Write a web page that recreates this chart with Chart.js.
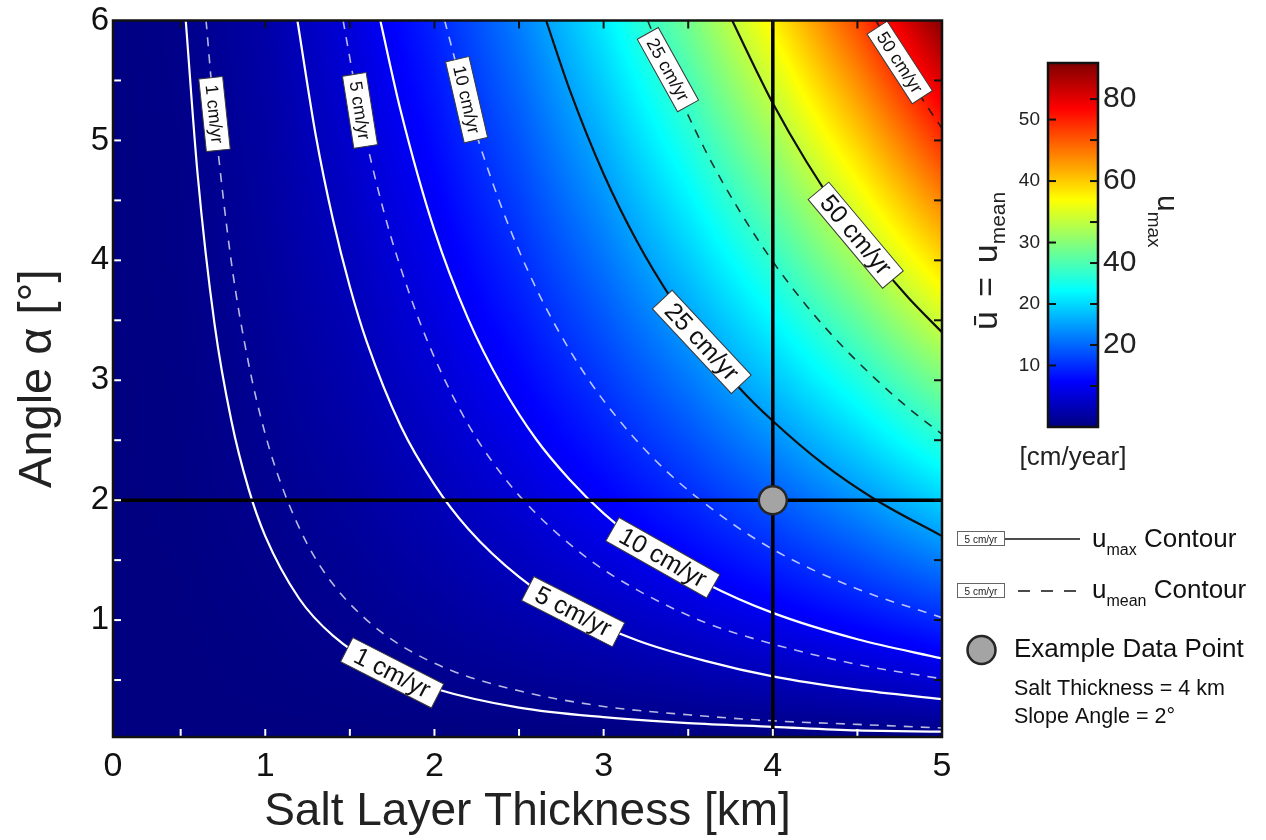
<!DOCTYPE html>
<html>
<head>
<meta charset="utf-8">
<title>Salt flow velocity</title>
<script src="https://cdn.jsdelivr.net/npm/chart.js@4.4.1/dist/chart.umd.min.js"></script>
<style>
  html, body { margin: 0; padding: 0; background: #ffffff; }
  #stage { position: relative; width: 1266px; height: 840px; overflow: hidden; }
  #main { position: absolute; left: 0; top: 0; }
  #cbar { position: absolute; left: 960px; top: 40px; }
</style>
</head>
<body>
<div id="stage">
  <canvas id="main" width="1266" height="840"></canvas>
  <canvas id="cbar" width="230" height="440"></canvas>
</div>
<script>
// ===================== DATA =====================
const thicknessRange = [0.1, 5];      // x axis extent [km]
const angleRange = [0.025, 6];        // y axis extent [deg]
const xTickValues = [0.1, 0.5, 1, 1.5, 2, 2.5, 3, 3.5, 4, 4.5, 5];
const xTickLabels = ['0', '', '1', '', '2', '', '3', '', '4', '', '5'];
const yTickValues = [0.5, 1, 1.5, 2, 2.5, 3, 3.5, 4, 4.5, 5, 5.5, 6];
const yTickLabels = ['', '1', '', '2', '', '3', '', '4', '', '5', '', '6'];

// colour field: u_max [cm/yr] read on a thickness x angle grid
const gridThickness = [0, 0.5, 1, 1.5, 2, 2.5, 3, 3.5, 4, 4.5, 5];
const gridAngle = [0, 1, 2, 3, 4, 5, 6];
const gridUmax = [
  [0, 0,   0,   0,   0,    0,    0,    0,    0,    0,    0],
  [0, 0.1, 0.6, 1.3, 2.4,  3.7,  5.3,  7.2,  9.4,  11.9, 14.7],
  [0, 0.3, 1.2, 2.6, 4.7,  7.4,  10.6, 14.4, 18.8, 23.8, 29.4],
  [0, 0.4, 1.8, 4.0, 7.1,  11.0, 15.9, 21.6, 28.2, 35.7, 44.1],
  [0, 0.6, 2.4, 5.3, 9.4,  14.7, 21.2, 28.8, 37.6, 47.6, 58.8],
  [0, 0.7, 2.9, 6.6, 11.8, 18.4, 26.5, 36.0, 47.0, 59.5, 73.5],
  [0, 0.9, 3.5, 7.9, 14.1, 22.1, 31.8, 43.2, 56.4, 71.4, 88.2]
];

// colour bar
const colorbarUmaxMax = 88.8;
const colorbarMeanMax = 59.2;
const cbMeanTicks = [10, 20, 30, 40, 50];
const cbMeanLabels = ['10', '20', '30', '40', '50'];
const cbUmaxTicks = [10, 20, 30, 40, 50, 60, 70, 80];
const cbUmaxLabels = ['', '20', '', '40', '', '60', '', '80'];

// u_max contours (solid): thickness [km] / angle [deg]
const umax1Thickness  = [0.53, 0.6, 0.7, 0.8, 0.9, 1.0, 1.2, 1.4, 1.7, 2.0, 2.5, 3.0, 3.5, 4.0, 4.5, 5.0];
const umax1Angle      = [6.0, 4.72, 3.47, 2.66, 2.10, 1.70, 1.18, 0.87, 0.59, 0.43, 0.27, 0.19, 0.14, 0.11, 0.08, 0.07];
const umax5Thickness  = [1.19, 1.3, 1.4, 1.5, 1.6, 1.8, 2.0, 2.2, 2.5, 2.8, 3.2, 3.6, 4.0, 4.5, 5.0];
const umax5Angle      = [6.0, 5.03, 4.34, 3.78, 3.32, 2.62, 2.13, 1.76, 1.36, 1.08, 0.83, 0.66, 0.53, 0.42, 0.34];
const umax10Thickness = [1.68, 1.8, 2.0, 2.2, 2.4, 2.6, 2.8, 3.0, 3.3, 3.6, 4.0, 4.5, 5.0];
const umax10Angle     = [6.0, 5.25, 4.25, 3.51, 2.95, 2.51, 2.17, 1.89, 1.56, 1.31, 1.06, 0.84, 0.68];
const umax25Thickness = [2.66, 2.8, 3.0, 3.2, 3.4, 3.6, 3.8, 4.0, 4.3, 4.6, 5.0];
const umax25Angle     = [6.0, 5.42, 4.72, 4.15, 3.68, 3.28, 2.94, 2.66, 2.30, 2.01, 1.70];
const umax50Thickness = [3.76, 3.9, 4.0, 4.2, 4.4, 4.6, 4.8, 5.0];
const umax50Angle     = [6.0, 5.59, 5.31, 4.82, 4.39, 4.02, 3.69, 3.40];

// u_mean contours (dashed)
const mean1Thickness  = [0.65, 0.7, 0.8, 0.9, 1.0, 1.1, 1.25, 1.4, 1.6, 1.8, 2.1, 2.5, 3.0, 3.5, 4.0, 4.5, 5.0];
const mean1Angle      = [6.0, 5.20, 3.98, 3.15, 2.55, 2.11, 1.63, 1.30, 1.00, 0.79, 0.58, 0.41, 0.28, 0.21, 0.16, 0.13, 0.10];
const mean5Thickness  = [1.46, 1.55, 1.7, 1.85, 2.0, 2.2, 2.4, 2.6, 2.9, 3.2, 3.6, 4.0, 4.5, 5.0];
const mean5Angle      = [6.0, 5.31, 4.41, 3.73, 3.19, 2.63, 2.21, 1.89, 1.52, 1.25, 0.98, 0.80, 0.63, 0.51];
const mean10Thickness = [2.06, 2.2, 2.4, 2.6, 2.8, 3.0, 3.3, 3.6, 4.0, 4.5, 5.0];
const mean10Angle     = [6.0, 5.27, 4.43, 3.77, 3.25, 2.83, 2.34, 1.97, 1.59, 1.26, 1.02];
const mean25Thickness = [3.26, 3.4, 3.6, 3.8, 4.0, 4.2, 4.4, 4.6, 4.8, 5.0];
const mean25Angle     = [6.0, 5.52, 4.92, 4.42, 3.99, 3.62, 3.30, 3.02, 2.77, 2.55];
const mean50Thickness = [4.61, 4.7, 4.8, 4.9, 5.0];
const mean50Angle     = [6.0, 5.77, 5.53, 5.31, 5.10];

// contour label anchors (thickness, angle) and text rotation [deg]
const contourLabelAnchors = [
  { kind: 'umax', level: 1,  h: 1.75, a: 0.56, rot: 27 },
  { kind: 'umax', level: 5,  h: 2.82, a: 1.07, rot: 27 },
  { kind: 'umax', level: 10, h: 3.35, a: 1.52, rot: 29.5 },
  { kind: 'umax', level: 25, h: 3.58, a: 3.32, rot: 47 },
  { kind: 'umax', level: 50, h: 4.49, a: 4.21, rot: 50 },
  { kind: 'mean', level: 1,  h: 0.70, a: 5.22, rot: 84 },
  { kind: 'mean', level: 5,  h: 1.56, a: 5.25, rot: 81 },
  { kind: 'mean', level: 10, h: 2.19, a: 5.34, rot: 77 },
  { kind: 'mean', level: 25, h: 3.38, a: 5.59, rot: 61 },
  { kind: 'mean', level: 50, h: 4.75, a: 5.65, rot: 57 }
];

// example data point
const exampleThickness = 4;
const exampleAngle = 2;

// ===================== BUILD =====================
const FONT = "'Liberation Sans', Arial, Helvetica, sans-serif";
Chart.defaults.font.family = FONT;
Chart.defaults.color = '#111';

const contourSeries = [
  { kind: 'umax', level: 1,  h: umax1Thickness,  a: umax1Angle },
  { kind: 'umax', level: 5,  h: umax5Thickness,  a: umax5Angle },
  { kind: 'umax', level: 10, h: umax10Thickness, a: umax10Angle },
  { kind: 'umax', level: 25, h: umax25Thickness, a: umax25Angle },
  { kind: 'umax', level: 50, h: umax50Thickness, a: umax50Angle },
  { kind: 'mean', level: 1,  h: mean1Thickness,  a: mean1Angle },
  { kind: 'mean', level: 5,  h: mean5Thickness,  a: mean5Angle },
  { kind: 'mean', level: 10, h: mean10Thickness, a: mean10Angle },
  { kind: 'mean', level: 25, h: mean25Thickness, a: mean25Angle },
  { kind: 'mean', level: 50, h: mean50Thickness, a: mean50Angle }
];

const jetStops = [[0, '#000080'], [0.125, '#0000ff'], [0.375, '#00ffff'], [0.625, '#ffff00'], [0.875, '#ff0000'], [1, '#800000']];

function jet(t) {
  t = Math.max(0, Math.min(1, t));
  const c = v => Math.round(255 * Math.max(0, Math.min(1, v)));
  return [c(1.5 - Math.abs(4 * t - 3)), c(1.5 - Math.abs(4 * t - 2)), c(1.5 - Math.abs(4 * t - 1))];
}
function locate(arr, v) {
  const n = arr.length - 1;
  if (v <= arr[0]) return [0, 0];
  if (v >= arr[n]) return [n - 1, 1];
  let i = 0;
  while (arr[i + 1] < v) i++;
  return [i, (v - arr[i]) / (arr[i + 1] - arr[i])];
}
const seriesKey = (kind, level) => kind + ' ' + level;

const contourDatasets = contourSeries.map(s => {
  const dark = s.level >= 25;
  const solid = s.kind === 'umax';
  return {
    type: 'line',
    label: seriesKey(s.kind, s.level),
    data: s.h.map((h, i) => ({ x: h, y: s.a[i] })),
    borderColor: solid ? (dark ? '#111111' : '#ffffff') : (dark ? 'rgba(20,20,20,0.85)' : 'rgba(255,255,255,0.72)'),
    borderWidth: solid ? 2.2 : 1.6,
    borderDash: solid ? [] : [9, 8],
    pointRadius: 0,
    cubicInterpolationMode: 'monotone',
    fill: false,
    order: 10
  };
});

const crossDatasets = [
  { type: 'line', label: 'angle line', data: [{ x: thicknessRange[0], y: exampleAngle }, { x: thicknessRange[1], y: exampleAngle }],
    borderColor: '#000', borderWidth: 3.5, pointRadius: 0, fill: false, order: 2 },
  { type: 'line', label: 'thickness line', data: [{ x: exampleThickness, y: angleRange[0] }, { x: exampleThickness, y: angleRange[1] }],
    borderColor: '#000', borderWidth: 3.5, pointRadius: 0, fill: false, order: 2 },
  { type: 'line', label: 'example', data: [{ x: exampleThickness, y: exampleAngle }], showLine: false,
    pointRadius: 14, pointBackgroundColor: '#a4a4a4', pointBorderColor: '#262626', pointBorderWidth: 2.5, order: 0 }
];

// ---------- heat map ----------
const heatmapPlugin = {
  id: 'heatmap',
  beforeDatasetsDraw(chart) {
    const { ctx, chartArea: a, scales } = chart;
    const x0 = Math.floor(a.left), y0 = Math.floor(a.top);
    const w = Math.ceil(a.right) - x0, h = Math.ceil(a.bottom) - y0;
    const off = document.createElement('canvas');
    off.width = w; off.height = h;
    const octx = off.getContext('2d');
    const img = octx.createImageData(w, h);
    const cols = [], rows = [];
    for (let i = 0; i < w; i++) cols.push(locate(gridThickness, scales.x.getValueForPixel(x0 + i + 0.5)));
    for (let j = 0; j < h; j++) rows.push(locate(gridAngle, scales.y.getValueForPixel(y0 + j + 0.5)));
    for (let j = 0; j < h; j++) {
      const [k, s] = rows[j];
      const r0 = gridUmax[k], r1 = gridUmax[k + 1];
      for (let i = 0; i < w; i++) {
        const [m, t] = cols[i];
        const v = (1 - s) * ((1 - t) * r0[m] + t * r0[m + 1]) + s * ((1 - t) * r1[m] + t * r1[m + 1]);
        const col = jet(v / colorbarUmaxMax);
        const p = (j * w + i) * 4;
        img.data[p] = col[0]; img.data[p + 1] = col[1]; img.data[p + 2] = col[2]; img.data[p + 3] = 255;
      }
    }
    octx.putImageData(img, 0, 0);
    ctx.save();
    ctx.drawImage(off, x0, y0);
    ctx.restore();
  }
};

function seg(ctx, x1, y1, x2, y2) { ctx.beginPath(); ctx.moveTo(x1, y1); ctx.lineTo(x2, y2); ctx.stroke(); }

function drawRich(ctx, x, y, parts) {
  parts.forEach(p => {
    ctx.font = p.size + 'px ' + FONT;
    ctx.fillText(p.t, x, y + (p.dy || 0));
    x += ctx.measureText(p.t).width + (p.gap || 0);
  });
  return x;
}

// ---------- overlay: labels, ticks, frame, legend ----------
const overlayPlugin = {
  id: 'overlay',
  afterDatasetsDraw(chart) {
    const { ctx, chartArea: a, scales } = chart;
    ctx.save();
    // contour labels
    contourLabelAnchors.forEach(lb => {
      const px = scales.x.getPixelForValue(lb.h), py = scales.y.getPixelForValue(lb.a);
      const big = lb.kind === 'umax';
      const fs = big ? 25 : 18, padX = big ? 10 : 7, bh = big ? 27 : 24;
      const text = lb.level + ' cm/yr';
      ctx.font = fs + 'px ' + FONT;
      const tw = ctx.measureText(text).width;
      const bw = tw + 2 * padX;
      ctx.save();
      ctx.translate(px, py);
      ctx.rotate(lb.rot * Math.PI / 180);
      ctx.fillStyle = '#ffffff';
      ctx.fillRect(-bw / 2, -bh / 2, bw, bh);
      ctx.lineWidth = 1;
      ctx.strokeStyle = '#3a3a3a';
      ctx.strokeRect(-bw / 2, -bh / 2, bw, bh);
      ctx.fillStyle = '#111';
      ctx.textAlign = 'center';
      ctx.textBaseline = 'middle';
      ctx.fillText(text, 0, 1);
      ctx.restore();
    });

    // inward tick marks
    const tl = 8;
    ctx.lineWidth = 2;
    xTickValues.forEach(v => {
      if (v <= thicknessRange[0] || v >= thicknessRange[1]) return;
      const p = scales.x.getPixelForValue(v);
      ctx.strokeStyle = '#ffffff'; seg(ctx, p, a.bottom, p, a.bottom - tl);
      ctx.strokeStyle = '#111111'; seg(ctx, p, a.top, p, a.top + tl);
    });
    yTickValues.forEach(v => {
      if (v <= angleRange[0] || v >= angleRange[1]) return;
      const p = scales.y.getPixelForValue(v);
      ctx.strokeStyle = '#ffffff'; seg(ctx, a.left, p, a.left + tl, p);
      ctx.strokeStyle = '#111111'; seg(ctx, a.right, p, a.right - tl, p);
    });
    // frame
    ctx.lineWidth = 2.5;
    ctx.strokeStyle = '#111';
    ctx.strokeRect(a.left, a.top, a.right - a.left, a.bottom - a.top);
    ctx.restore();
  },
  afterDraw(chart) {
    const ctx = chart.ctx;
    ctx.save();
    ctx.textAlign = 'left';
    ctx.textBaseline = 'alphabetic';
    const rows = [{ y: 531, dash: [], x1: 1005 }, { y: 583, dash: [12, 11], x1: 1018 }];
    rows.forEach(b => {
      ctx.fillStyle = '#fff';
      ctx.fillRect(957, b.y, 48, 15);
      ctx.lineWidth = 1; ctx.strokeStyle = '#666';
      ctx.strokeRect(957.5, b.y + 0.5, 47, 14);
      ctx.fillStyle = '#222';
      ctx.font = '10px ' + FONT;
      ctx.textAlign = 'center';
      ctx.fillText('5 cm/yr', 981, b.y + 11.5);
      ctx.textAlign = 'left';
      ctx.setLineDash(b.dash);
      ctx.lineWidth = 1.6; ctx.strokeStyle = '#111';
      seg(ctx, b.x1, b.y + 8, 1080, b.y + 8);
      ctx.setLineDash([]);
    });
    ctx.fillStyle = '#111';
    drawRich(ctx, 1092, 547, [{ t: 'u', size: 26 }, { t: 'max', size: 16, dy: 8 }, { t: ' Contour', size: 26 }]);
    drawRich(ctx, 1092, 598, [{ t: 'u', size: 26 }, { t: 'mean', size: 16, dy: 8 }, { t: ' Contour', size: 26 }]);
    ctx.beginPath();
    ctx.arc(981.5, 650, 14, 0, Math.PI * 2);
    ctx.fillStyle = '#a4a4a4'; ctx.fill();
    ctx.lineWidth = 2.5; ctx.strokeStyle = '#262626'; ctx.stroke();
    ctx.fillStyle = '#111';
    ctx.font = '26px ' + FONT;
    ctx.fillText('Example Data Point', 1014, 657);
    ctx.font = '21.5px ' + FONT;
    ctx.fillText('Salt Thickness = ' + exampleThickness + ' km', 1014, 695);
    ctx.fillText('Slope Angle = ' + exampleAngle + '\u00b0', 1014, 723);
    ctx.restore();
  }
};

new Chart(document.getElementById('main'), {
  type: 'line',
  data: { datasets: [...crossDatasets, ...contourDatasets] },
  options: {
    responsive: false,
    animation: false,
    events: [],
    layout: { padding: { left: 0, top: 20, right: 324, bottom: 0 } },
    plugins: { legend: { display: false }, tooltip: { enabled: false } },
    scales: {
      x: {
        type: 'linear',
        min: thicknessRange[0], max: thicknessRange[1],
        afterFit: s => { s.height = 103; },
        afterBuildTicks: s => { s.ticks = xTickValues.map(v => ({ value: v })); },
        grid: { display: false, drawTicks: false, tickLength: 0 },
        border: { display: false },
        ticks: { autoSkip: false, maxRotation: 0, padding: 9, color: '#111', font: { size: 34 },
                 callback: (v, i) => xTickLabels[i] },
        title: { display: true, text: 'Salt Layer Thickness [km]', color: '#222', font: { size: 46 },
                 padding: { top: 0, bottom: 0 } }
      },
      y: {
        type: 'linear',
        min: angleRange[0], max: angleRange[1],
        afterFit: s => { s.width = 113; },
        afterBuildTicks: s => { s.ticks = yTickValues.map(v => ({ value: v })); },
        grid: { display: false, drawTicks: false, tickLength: 0 },
        border: { display: false },
        ticks: { autoSkip: false, padding: 4, color: '#111', font: { size: 33, lineHeight: 1 },
                 callback: (v, i) => yTickLabels[i] },
        title: { display: true, text: 'Angle \u03b1 [\u00b0]', color: '#222', font: { size: 47 },
                 padding: { top: 10, bottom: 0 } }
      }
    }
  },
  plugins: [heatmapPlugin, overlayPlugin]
});

// ---------- colour bar ----------
const cbarPlugin = {
  id: 'cbarDeco',
  afterDatasetsDraw(chart) {
    const { ctx, chartArea: a, scales } = chart;
    ctx.save();
    ctx.lineWidth = 2;
    ctx.strokeStyle = '#111';
    cbMeanTicks.forEach(v => { const p = scales.y.getPixelForValue(v); seg(ctx, a.left, p, a.left + 8, p); });
    cbUmaxTicks.forEach(v => { const p = scales.y2.getPixelForValue(v); seg(ctx, a.right, p, a.right - 8, p); });
    ctx.lineWidth = 2.5;
    ctx.strokeRect(a.left, a.top, a.right - a.left, a.bottom - a.top);
    ctx.restore();
  },
  afterDraw(chart) {
    const { ctx, chartArea: a } = chart;
    ctx.save();
    ctx.fillStyle = '#222';
    ctx.textBaseline = 'alphabetic';
    ctx.font = '26px ' + FONT;
    ctx.textAlign = 'center';
    ctx.fillText('[cm/year]', (a.left + a.right) / 2, a.bottom + 38);
    ctx.textAlign = 'left';
    // right title: u_max (reads top to bottom)
    ctx.save();
    ctx.translate(a.right + 60, a.top + 132);
    ctx.rotate(Math.PI / 2);
    drawRich(ctx, 0, 0, [{ t: 'u', size: 30 }, { t: 'max', size: 19, dy: 10 }]);
    ctx.restore();
    // left title: ū = u_mean (reads bottom to top)
    ctx.save();
    ctx.translate(a.left - 51, a.top + 267);
    ctx.rotate(-Math.PI / 2);
    drawRich(ctx, 0, 0, [{ t: '\u016b', size: 34, gap: 14 }, { t: '=', size: 34, gap: 14 }, { t: 'u', size: 34 },
                          { t: 'mean', size: 21, dy: 8 }]);
    ctx.restore();
    ctx.restore();
  }
};

new Chart(document.getElementById('cbar'), {
  type: 'bar',
  data: {
    labels: [''],
    datasets: [{
      data: [colorbarMeanMax],
      yAxisID: 'y',
      backgroundColor: c => {
        const a = c.chart.chartArea;
        if (!a) return '#000080';
        const g = c.chart.ctx.createLinearGradient(0, a.bottom, 0, a.top);
        jetStops.forEach(([t, col]) => g.addColorStop(t, col));
        return g;
      },
      borderWidth: 0,
      barPercentage: 1,
      categoryPercentage: 1
    }]
  },
  options: {
    responsive: false,
    animation: false,
    events: [],
    layout: { padding: { top: 23, bottom: 53, left: 0, right: 0 } },
    plugins: { legend: { display: false }, tooltip: { enabled: false } },
    scales: {
      x: { display: false },
      y: {
        position: 'left', min: 0, max: colorbarMeanMax,
        afterFit: s => { s.width = 88; },
        afterBuildTicks: s => { s.ticks = cbMeanTicks.map(v => ({ value: v })); },
        grid: { display: false, drawTicks: false, tickLength: 0 },
        border: { display: false },
        ticks: { padding: 8, color: '#222', font: { size: 19 }, callback: (v, i) => cbMeanLabels[i] }
      },
      y2: {
        position: 'right', min: 0, max: colorbarUmaxMax,
        afterFit: s => { s.width = 92; },
        afterBuildTicks: s => { s.ticks = cbUmaxTicks.map(v => ({ value: v })); },
        grid: { display: false, drawTicks: false, tickLength: 0 },
        border: { display: false },
        ticks: { padding: 5, color: '#222', font: { size: 30 }, callback: (v, i) => cbUmaxLabels[i] }
      }
    }
  },
  plugins: [cbarPlugin]
});
</script>
</body>
</html>
